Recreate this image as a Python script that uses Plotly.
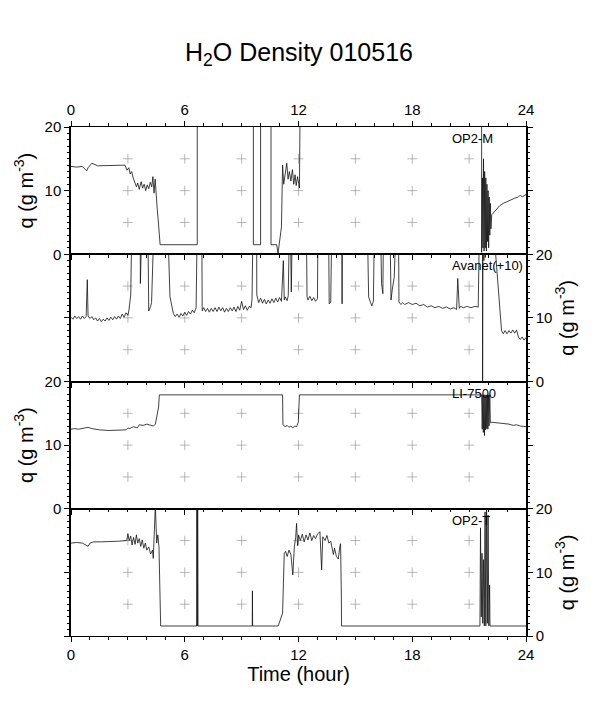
import plotly.graph_objects as go

# hour of day, water vapour density (g m-3); 30 = off the top of the panel
op2m_pts = [
    (0, 13.8), (0.3, 13.7), (0.6, 13.8), (0.83, 13.1), (0.9, 13.6), (1.1, 14.3), (1.4, 13.9),
    (2.0, 13.9), (2.5, 13.9), (2.85, 14.0), (2.95, 13.2), (3.05, 13.6), (3.12, 12.6), (3.2, 13.0),
    (3.28, 12.0), (3.36, 11.3), (3.45, 10.6), (3.52, 11.2), (3.6, 10.2), (3.7, 11.4), (3.78, 10.4),
    (3.86, 11.0), (3.94, 10.0), (4.02, 10.9), (4.1, 10.3), (4.18, 11.3), (4.26, 10.6), (4.32, 12.2),
    (4.38, 9.6), (4.44, 11.8), (4.5, 8.5), (4.55, 7.0), (4.6, 5.4), (4.65, 3.5), (4.7, 1.5),
    (6.66, 1.5), (6.66, 30), (9.62, 30), (9.62, 1.5), (10.0, 1.5), (10.0, 30), (10.55, 30),
    (10.55, 1.5), (10.85, 1.5), (10.92, 0.1), (11.1, 4.3), (11.16, 14.0), (11.22, 11.0),
    (11.3, 12.5), (11.38, 14.3), (11.45, 11.8), (11.52, 13.0), (11.6, 11.5), (11.68, 13.3),
    (11.75, 11.0), (11.82, 12.5), (11.88, 10.8), (11.95, 12.2), (12.05, 10.4), (12.1, 30),
    (21.66, 30), (21.66, 0.3), (21.7, 12), (21.73, 1), (21.76, 15), (21.79, 0.5), (21.82, 13),
    (21.85, 1), (21.88, 12), (21.91, 0.5), (21.94, 11), (21.97, 2), (22.0, 10), (22.03, 1),
    (22.06, 9), (22.09, 3), (22.12, 8), (22.15, 4), (22.19, 6.2), (22.4, 7.0), (22.6, 7.6),
    (22.8, 8.0), (23.0, 8.3), (23.2, 8.6), (23.4, 8.8), (23.6, 9.0), (23.7, 9.3), (23.8, 9.0),
    (24.0, 9.4),
]

avanet_pts = [
    (0, 10.1), (0.1, 9.8), (0.2, 10.3), (0.3, 9.9), (0.4, 10.2), (0.5, 9.8), (0.6, 10.3),
    (0.7, 9.9), (0.8, 10.2), (0.86, 16.0), (0.9, 10.3), (1.0, 9.9), (1.1, 10.2), (1.2, 9.7),
    (1.3, 10.0), (1.4, 9.5), (1.5, 9.9), (1.6, 9.4), (1.7, 9.8), (1.8, 9.5), (1.9, 10.0),
    (2.0, 9.6), (2.1, 10.1), (2.2, 9.7), (2.3, 10.2), (2.4, 9.8), (2.5, 10.3), (2.6, 9.9),
    (2.7, 10.6), (2.8, 10.1), (2.9, 10.8), (3.0, 10.4), (3.05, 11.1), (3.15, 13.6), (3.24, 30),
    (3.64, 30), (3.66, 15.4), (3.78, 30), (4.04, 30), (4.1, 11.1), (4.2, 11.8), (4.25, 12.4),
    (4.43, 30), (5.05, 30), (5.22, 13.3), (5.4, 10.7), (5.5, 10.2), (5.6, 10.6), (5.7, 10.1),
    (5.8, 10.7), (5.9, 10.3), (6.0, 10.9), (6.1, 10.4), (6.2, 11.0), (6.3, 10.6), (6.4, 11.2),
    (6.5, 10.8), (6.6, 11.6), (6.68, 30), (6.89, 30), (6.92, 11.1), (7.0, 11.6), (7.1, 11.0),
    (7.2, 11.5), (7.3, 10.9), (7.4, 11.5), (7.5, 11.0), (7.6, 11.6), (7.7, 11.0), (7.8, 11.7),
    (7.9, 11.1), (8.0, 11.6), (8.1, 10.9), (8.2, 11.5), (8.3, 11.0), (8.4, 11.6), (8.5, 11.1),
    (8.6, 11.7), (8.7, 11.0), (8.8, 11.8), (8.9, 11.2), (9.0, 12.6), (9.1, 11.3), (9.2, 11.9),
    (9.3, 11.2), (9.4, 11.8), (9.5, 11.6), (9.55, 13.0), (9.62, 30), (9.79, 30), (9.8, 13.6),
    (9.9, 12.4), (10.0, 13.1), (10.1, 12.3), (10.2, 12.9), (10.3, 12.2), (10.4, 12.8),
    (10.5, 12.3), (10.6, 13.0), (10.7, 12.4), (10.8, 13.1), (10.9, 12.5), (11.0, 13.2),
    (11.1, 12.6), (11.2, 19.0), (11.25, 12.8), (11.3, 13.3), (11.4, 12.7), (11.46, 13.5),
    (11.55, 30), (11.62, 14.1), (11.7, 30), (12.4, 30), (12.45, 13.3), (12.5, 12.8), (12.6, 13.4),
    (12.7, 12.7), (12.8, 13.2), (12.9, 12.6), (13.0, 13.0), (13.04, 30), (13.57, 30),
    (13.62, 12.2), (13.7, 12.5), (13.78, 30), (14.28, 30), (14.3, 12.2), (14.32, 30), (15.6, 30),
    (15.7, 13.3), (15.8, 12.4), (15.87, 11.9), (15.95, 12.6), (16.03, 30), (16.3, 30),
    (16.38, 15.4), (16.45, 13.8), (16.5, 30), (16.8, 30), (16.88, 12.8), (16.95, 14.5),
    (17.05, 16.4), (17.2, 30), (17.26, 30), (17.3, 12.5), (17.4, 12.1), (17.5, 12.4),
    (17.6, 12.1), (17.8, 12.4), (18.0, 12.1), (18.2, 12.3), (18.4, 11.9), (18.6, 12.1),
    (18.8, 11.7), (19.0, 11.9), (19.2, 11.6), (19.4, 11.8), (19.6, 11.5), (19.8, 11.7),
    (20.0, 11.4), (20.2, 11.6), (20.34, 11.3), (20.4, 16.2), (20.48, 11.5), (20.55, 11.8),
    (20.7, 11.6), (20.9, 11.8), (21.1, 11.6), (21.3, 11.8), (21.48, 11.7), (21.57, 30),
    (21.71, 30), (21.71, -2), (21.73, 30), (21.78, 19), (21.82, 30), (21.86, 19.5), (21.9, 30),
    (22.35, 30), (22.4, 20), (22.71, 8.0), (22.8, 7.5), (22.9, 8.0), (23.0, 7.5), (23.1, 8.0),
    (23.2, 7.6), (23.3, 8.1), (23.4, 7.6), (23.5, 8.1), (23.6, 7.0), (23.7, 6.6), (23.8, 7.0),
    (23.9, 6.5), (24.0, 6.9),
]

li7500_pts = [
    (0, 12.5), (0.2, 12.6), (0.4, 12.5), (0.6, 12.6), (0.9, 12.8), (1.1, 12.6), (1.5, 12.4),
    (2.0, 12.3), (2.5, 12.3), (2.9, 12.4), (3.0, 12.7), (3.1, 12.6), (3.3, 12.9), (3.5, 12.7),
    (3.6, 13.2), (3.8, 13.1), (4.0, 13.3), (4.2, 13.1), (4.35, 13.0), (4.45, 13.3), (4.55, 14.6),
    (4.62, 16.0), (4.66, 17.9), (11.16, 17.9), (11.18, 13.2), (11.3, 12.9), (11.4, 13.1),
    (11.5, 12.8), (11.6, 13.0), (11.7, 12.7), (11.8, 13.0), (11.9, 12.9), (11.99, 13.6),
    (12.05, 17.9), (21.66, 17.9), (21.69, 12.5), (21.72, 17.9), (21.75, 12.0), (21.78, 17.9),
    (21.81, 11.5), (21.84, 17.9), (21.87, 12.4), (21.9, 17.9), (21.93, 12.6), (21.96, 17.9),
    (21.99, 12.5), (22.02, 17.9), (22.05, 13.0), (22.09, 17.9), (22.12, 13.5), (22.19, 13.6),
    (22.5, 13.5), (22.8, 13.4), (23.1, 13.3), (23.33, 13.1), (23.5, 13.2), (23.7, 13.0),
    (24.0, 12.9),
]

op2t_pts = [
    (0, 14.6), (0.3, 14.7), (0.6, 14.6), (0.9, 14.1), (1.0, 14.6), (1.2, 14.8), (1.6, 14.8),
    (2.0, 14.8), (2.5, 14.9), (2.94, 15.0), (3.0, 16.1), (3.07, 15.0), (3.15, 15.7), (3.22, 14.3),
    (3.3, 15.5), (3.38, 14.4), (3.45, 15.9), (3.52, 14.6), (3.6, 15.3), (3.68, 14.1), (3.76, 15.1),
    (3.84, 13.8), (3.92, 14.6), (4.0, 13.5), (4.1, 14.0), (4.2, 12.9), (4.3, 13.5), (4.34, 12.2),
    (4.45, 20.5), (4.52, 14.6), (4.58, 15.9), (4.64, 14.0), (4.73, 1.57), (6.63, 1.57),
    (6.64, 30), (6.66, 1.57), (6.68, 30), (6.7, 1.57), (9.56, 1.57), (9.57, 7.1), (9.58, 1.57),
    (10.93, 1.57), (11.16, 3.6), (11.25, 13.0), (11.32, 13.3), (11.4, 12.5), (11.5, 13.5),
    (11.6, 12.8), (11.7, 9.6), (11.78, 14.0), (11.85, 15.5), (11.9, 17.7), (11.95, 14.2),
    (12.0, 15.9), (12.1, 15.0), (12.2, 16.0), (12.3, 14.8), (12.4, 15.9), (12.5, 15.1),
    (12.6, 16.2), (12.7, 15.0), (12.8, 15.8), (12.9, 15.3), (13.0, 16.0), (13.13, 16.4),
    (13.22, 10.4), (13.28, 15.6), (13.4, 15.0), (13.5, 15.8), (13.6, 14.6), (13.7, 14.9),
    (13.84, 12.8), (13.9, 13.8), (14.0, 12.5), (14.1, 12.1), (14.18, 14.1), (14.22, 14.5),
    (14.26, 6.3), (14.27, 1.57), (21.57, 1.57), (21.6, 17), (21.64, 3), (21.68, 13), (21.72, 2),
    (21.76, 12), (21.8, 1.6), (21.84, 19.5), (21.88, 1.6), (21.92, 20), (21.96, 2), (22.0, 19),
    (22.04, 1.6), (22.08, 8), (22.1, 1.57), (24.0, 1.57),
]

series = [op2m_pts, avanet_pts, li7500_pts, op2t_pts]
labels = ["OP2-M", "Avanet(+10)", "LI-7500", "OP2-T"]
grid_hours = [3, 6, 9, 12, 15, 18, 21]
grid_q = [5, 10, 15]
hour_ticks = [0, 6, 12, 18, 24]

FONT = "Liberation Sans"
ytitle = "q (g m<sup>-3</sup>)"

fig = go.Figure()

for i, pts in enumerate(series):
    n = "" if i == 0 else str(i + 1)
    gx = [h for h in grid_hours for q in grid_q]
    gy = [q for h in grid_hours for q in grid_q]
    fig.add_trace(go.Scatter(
        x=gx, y=gy, mode="markers", xaxis="x" + n, yaxis="y" + n, hoverinfo="skip",
        marker=dict(symbol="cross-thin", size=7, line=dict(color="#9a9a9a", width=0.7)),
        showlegend=False))
    fig.add_trace(go.Scatter(
        x=[p[0] for p in pts], y=[p[1] for p in pts], mode="lines",
        xaxis="x" + n, yaxis="y" + n, name=labels[i],
        line=dict(color="#111111", width=0.8), showlegend=False))
    fig.add_annotation(
        x=20, y=1, xref="x" + n, yref="y" + n + " domain", text=labels[i],
        showarrow=False, xanchor="left", yanchor="top", yshift=-2,
        font=dict(family=FONT, size=13, color="black"))

layout = dict(
    width=598, height=709,
    margin=dict(l=71, r=72, t=127, b=73),
    paper_bgcolor="white", plot_bgcolor="white",
    font=dict(family=FONT, color="black"),
    title=dict(text="H<sub>2</sub>O Density 010516", x=0.5, xanchor="center",
               y=1 - 52 / 709, yanchor="middle", yref="container",
               font=dict(family=FONT, size=25, color="black")),
)

for i in range(4):
    n = "" if i == 0 else str(i + 1)
    top = 1 - 0.25 * i
    xa = dict(
        range=[0, 24], anchor="y" + n, tickmode="array", tickvals=hour_ticks,
        ticks="outside", ticklen=5, tickwidth=1, tickcolor="black",
        showline=True, linewidth=1.2, linecolor="black",
        mirror="ticks" if i == 0 else True, automargin=False,
        showgrid=False, zeroline=False, tickfont=dict(family=FONT, size=15),
        minor=dict(dtick=1, tick0=0, ticks="outside", ticklen=2.5, tickcolor="black"),
        showticklabels=i in (0, 3), side="top" if i == 0 else "bottom",
    )
    if i > 0:
        xa["matches"] = "x"
    if i == 3:
        xa["title"] = dict(text="Time (hour)", font=dict(family=FONT, size=20), standoff=0)
    ya = dict(
        range=[0, 20], domain=[top - 0.25, top], anchor="x" + n,
        tickvals=[0, 10, 20], ticks="outside", ticklen=5, tickwidth=1, tickcolor="black",
        showline=True, linewidth=1.5, linecolor="black", mirror="ticks", automargin=False,
        showgrid=False, zeroline=False, tickfont=dict(family=FONT, size=15),
        minor=dict(dtick=1, tick0=0, ticks="outside", ticklen=2.5, tickcolor="black"),
        side="left" if i % 2 == 0 else "right",
        title=dict(text=ytitle, font=dict(family=FONT, size=20), standoff=6),
    )
    layout["xaxis" + n] = xa
    layout["yaxis" + n] = ya

fig.update_layout(**layout)
fig.write_html("out.html", config={"displayModeBar": False},
               post_script="document.body.style.margin='0';")
